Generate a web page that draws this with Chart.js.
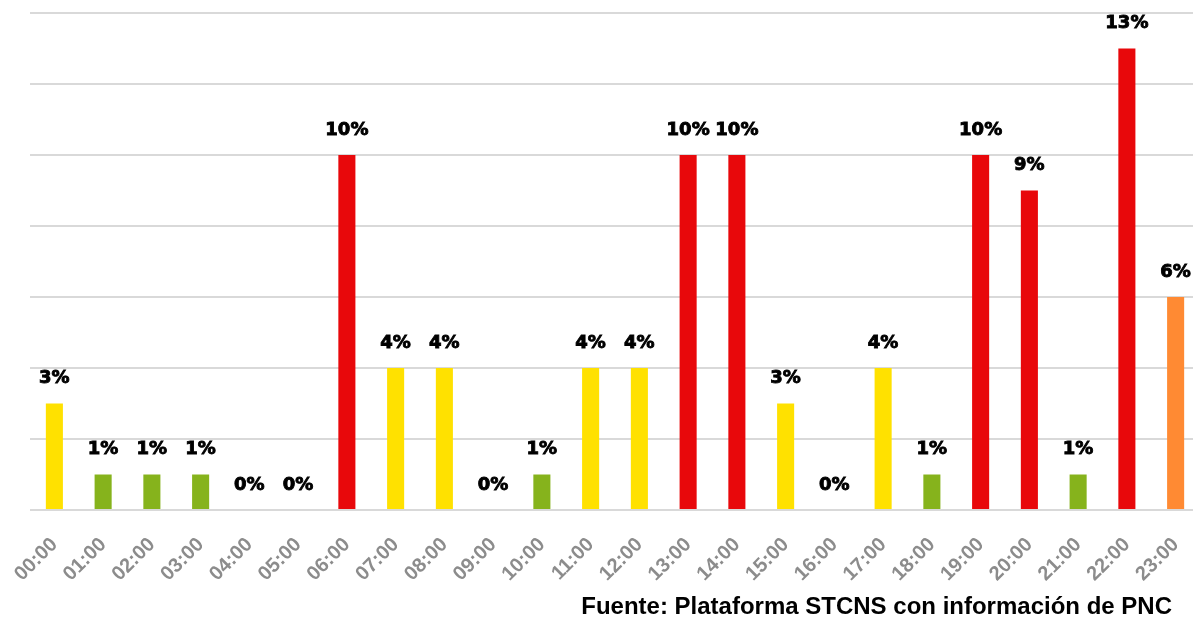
<!DOCTYPE html>
<html>
<head>
<meta charset="utf-8">
<script src="https://cdn.jsdelivr.net/npm/chart.js@4"></script>
<style>
  html, body { margin: 0; padding: 0; background: #fff; overflow: hidden; }
  #wrap { position: relative; width: 1200px; height: 617px; }
  #source {
    position: absolute; right: 28px; top: 594px;
    font: bold 24px/24px "Liberation Sans", Arial, sans-serif; color: #000;
    white-space: nowrap;
  }
</style>
</head>
<body>
<div id="wrap">
  <canvas id="chart" width="1200" height="617"></canvas>
  <div id="source">Fuente: Plataforma STCNS con información de PNC</div>
</div>
<script>
// horas del día
const hours = ['00:00','01:00','02:00','03:00','04:00','05:00','06:00','07:00','08:00','09:00','10:00','11:00',
               '12:00','13:00','14:00','15:00','16:00','17:00','18:00','19:00','20:00','21:00','22:00','23:00'];
// porcentaje por hora
const pct = [3, 1, 1, 1, 0, 0, 10, 4, 4, 0, 1, 4, 4, 10, 10, 3, 0, 4, 1, 10, 9, 1, 13, 6];

const GREEN = '#86b31c', YELLOW = '#ffe100', ORANGE = '#ff8a33', RED = '#e8080b';
function barColor(v) {
  if (v <= 1) return GREEN;
  if (v <= 4) return YELLOW;
  if (v <= 7) return ORANGE;
  return RED;
}

// etiquetas encima de cada barra
const valueLabels = {
  id: 'valueLabels',
  afterDatasetsDraw(chart) {
    const ctx = chart.ctx;
    const meta = chart.getDatasetMeta(0);
    ctx.save();
    ctx.font = 'bold 18px "DejaVu Sans", Verdana, sans-serif';
    ctx.fillStyle = '#000';
    ctx.strokeStyle = '#000';
    ctx.lineWidth = 0.9;
    ctx.textAlign = 'center';
    ctx.textBaseline = 'bottom';
    meta.data.forEach((bar, i) => {
      const t = pct[i] + '%';
      ctx.fillText(t, bar.x, bar.y - 16);
      ctx.strokeText(t, bar.x, bar.y - 16);
    });
    ctx.restore();
  }
};

new Chart(document.getElementById('chart'), {
  type: 'bar',
  data: {
    labels: hours,
    datasets: [{
      data: pct,
      backgroundColor: pct.map(barColor),
      barPercentage: 0.35,
      categoryPercentage: 1
    }]
  },
  options: {
    responsive: false,
    animation: false,
    layout: { padding: { left: 30, right: 0, top: 13, bottom: 0 } },
    plugins: { legend: { display: false }, tooltip: { enabled: false } },
    scales: {
      x: {
        grid: { display: false },
        border: { display: false },
        ticks: {
          color: '#8c8c8c',
          font: { family: '"Liberation Sans", Arial, sans-serif', size: 20, weight: 'bold' },
          maxRotation: 45, minRotation: 45,
          padding: 15
        },
        afterFit(axis) {
          axis.height = 107;
          axis.paddingLeft = 0;
          axis.paddingRight = 0;
        }
      },
      y: {
        display: true,
        min: 0, max: 14,
        ticks: { display: false, stepSize: 2 },
        grid: { color: '#d9d9d9', lineWidth: 2, drawTicks: false },
        border: { display: false },
        afterFit(axis) { axis.width = 0; }
      }
    }
  },
  plugins: [valueLabels]
});
</script>
</body>
</html>
